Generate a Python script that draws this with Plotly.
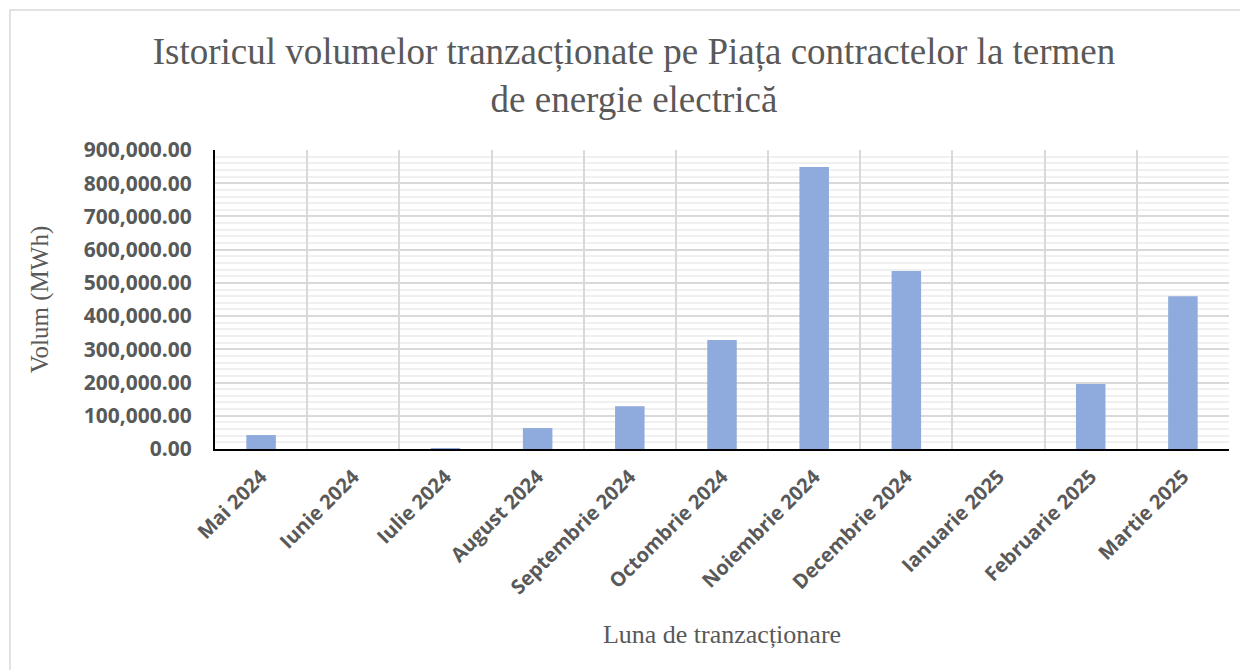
import plotly.graph_objects as go

months = ["Mai 2024", "Iunie 2024", "Iulie 2024", "August 2024", "Septembrie 2024",
          "Octombrie 2024", "Noiembrie 2024", "Decembrie 2024", "Ianuarie 2025",
          "Februarie 2025", "Martie 2025"]
volumes = [42000, 0, 2000, 63000, 129000, 328000, 849000, 536000, 0, 196000, 460000]
y_ticks = [0, 100000, 200000, 300000, 400000, 500000, 600000, 700000, 800000, 900000]

title_text = "Istoricul volumelor tranzacționate pe Piața contractelor la termen<br>de energie electrică"

fig = go.Figure()
fig.add_trace(go.Bar(
    x=months, y=volumes,
    marker=dict(color="#8FAADC", line=dict(width=0)),
    width=0.32,
))

serif = "Liberation Serif, Times New Roman, serif"
sans = "Open Sans, Liberation Sans, sans-serif"

fig.update_layout(
    width=1248, height=670,
    paper_bgcolor="white", plot_bgcolor="white",
    margin=dict(l=207, r=27, t=142, b=229, autoexpand=False),
    showlegend=False,
    title=dict(text=title_text, x=0.5016, xanchor="center", y=0.917, yanchor="top",
               font=dict(family=serif, size=37, color="#595959")),
    xaxis=dict(
        type="category", tickson="boundaries", showgrid=True,
        gridcolor="#d9d9d9", gridwidth=2,
        showline=True, linecolor="#000000", linewidth=2,
        ticks="", tickangle=-45, ticklabelstandoff=6,
        tickfont=dict(family=sans, size=20, color="#595959", weight="bold"),
        title=dict(text="Luna de tranzacționare", standoff=26,
                   font=dict(family=serif, size=26, color="#595959")),
    ),
    yaxis=dict(
        range=[0, 900000], tickvals=y_ticks, tickformat=",.2f",
        showgrid=True, gridcolor="#d9d9d9", gridwidth=2,
        minor=dict(dtick=20000, showgrid=True, gridcolor="#f0f0f0", gridwidth=2),
        showline=True, linecolor="#000000", linewidth=2,
        ticks="", ticklabelstandoff=17, zeroline=False,
        tickfont=dict(family=sans, size=21, color="#595959", weight="bold"),
        title=dict(text="Volum (MWh)", standoff=28,
                   font=dict(family=serif, size=25, color="#595959")),
    ),
    shapes=[dict(type="rect", xref="paper", yref="paper",
                 x0=-0.2022, x1=1.2, y0=-1.0, y1=1.468,
                 line=dict(color="#d9d9d9", width=1.5), fillcolor="rgba(0,0,0,0)",
                 layer="below")],
)

fig.write_html("out.html")
